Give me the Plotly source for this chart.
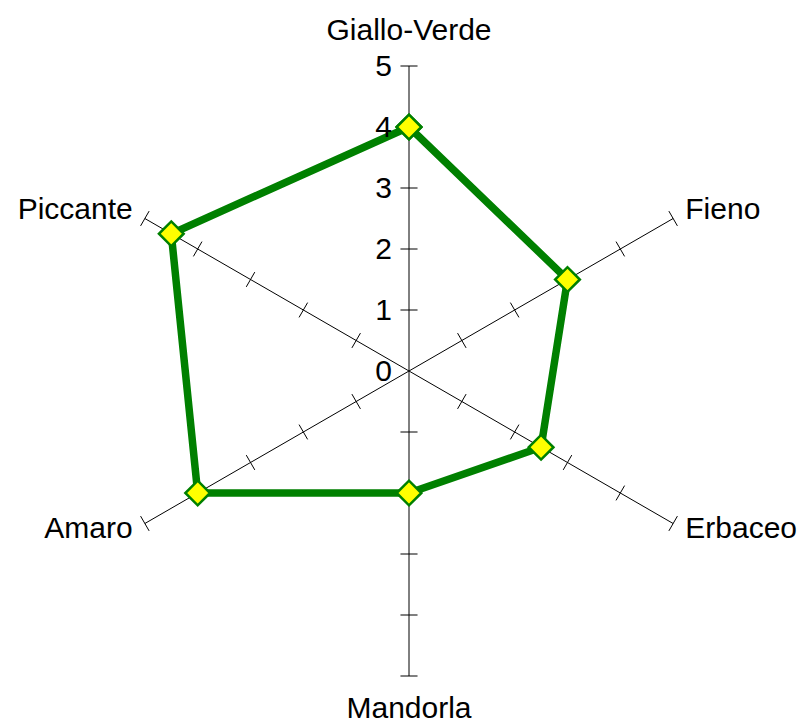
import math
import plotly.graph_objects as go

categories = ["Giallo-Verde", "Fieno", "Erbaceo", "Mandorla", "Amaro", "Piccante"]
values = [4, 3, 2.5, 2, 4, 4.5]
radial_ticks = [0, 1, 2, 3, 4, 5]

n = len(categories)
angles = [i * 360 / n for i in range(n)]
RMAX = radial_ticks[-1]
ROUT = 5.7  # outer extent of the polar area (room for category labels)

FONT = "Liberation Sans, Arial, sans-serif"
FS = 30

# spokes from the centre to the last tick
sr, st = [], []
for a in angles:
    sr += [0, RMAX, None]
    st += [a, a, None]

# tick marks across each spoke (perpendicular short segments), in data units
half = 0.14
tr, tt = [], []
for a in angles:
    for r in radial_ticks[1:]:
        rr = math.sqrt(r * r + half * half)
        da = math.degrees(math.atan(half / r))
        tr += [rr, rr, None]
        tt += [a - da, a + da, None]

# category labels placed just beyond the end of each spoke
label_pos = ["middle center", "middle right", "middle right",
             "middle center", "middle left", "middle left"]
label_r = [RMAX + 0.55, RMAX + 0.23, RMAX + 0.23,
           RMAX + 0.57, RMAX + 0.23, RMAX + 0.23]

fig = go.Figure()
fig.add_trace(go.Scatterpolar(
    r=sr, theta=st, mode="lines",
    line=dict(color="black", width=1),
    hoverinfo="skip", showlegend=False,
))
fig.add_trace(go.Scatterpolar(
    r=tr, theta=tt, mode="lines",
    line=dict(color="black", width=1),
    hoverinfo="skip", showlegend=False,
))
fig.add_trace(go.Scatterpolar(
    r=values + values[:1],
    theta=angles + angles[:1],
    mode="lines+markers",
    line=dict(color="#008000", width=7.5),
    marker=dict(symbol="diamond", size=19, color="#FFFF00",
                line=dict(color="#008000", width=2.5)),
    showlegend=False,
))
fig.add_trace(go.Scatterpolar(
    r=label_r, theta=angles, mode="text",
    text=categories, textposition=label_pos,
    textfont=dict(family=FONT, size=FS, color="black"),
    cliponaxis=False, hoverinfo="skip", showlegend=False,
))

# page body has an 8px margin; compensate so the chart lands where intended
OFF = 8
W, H = 807, 726
CX, CY = 409 - OFF, 371 - OFF      # centre in figure pixels
PX_PER_UNIT = 61
RPX = ROUT * PX_PER_UNIT
fig.update_layout(
    width=W, height=H,
    margin=dict(l=0, r=0, t=0, b=0),
    paper_bgcolor="white",
    font=dict(family=FONT, size=FS, color="black"),
    polar=dict(
        domain=dict(x=[(CX - RPX) / W, (CX + RPX) / W],
                    y=[(H - CY - RPX) / H, (H - CY + RPX) / H]),
        bgcolor="white",
        angularaxis=dict(
            type="linear",
            rotation=90, direction="clockwise",
            tickmode="array", tickvals=angles,
            showline=False, showgrid=False,
            ticks="", showticklabels=False,
        ),
        radialaxis=dict(
            range=[0, ROUT], angle=90, side="counterclockwise",
            tickmode="array", tickvals=radial_ticks,
            tickangle=90,
            showgrid=False, showline=False,
            ticks="outside", ticklen=6, tickcolor="rgba(0,0,0,0)",
            tickfont=dict(family=FONT, size=FS, color="black"),
        ),
    ),
)

fig.write_html("out.html")
